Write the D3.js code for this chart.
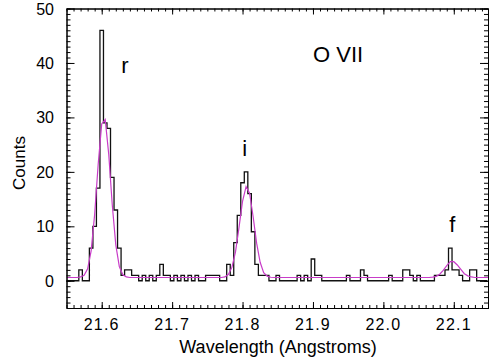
<!DOCTYPE html>
<html>
<head>
<meta charset="utf-8">
<script src="https://cdn.jsdelivr.net/npm/d3@7"></script>
<style>
  body { margin: 0; background: #fff; }
  text { font-family: "Liberation Sans", Arial, Helvetica, sans-serif; fill: #000; }
</style>
</head>
<body>
<svg id="chart" width="489" height="358"></svg>
<script>
// O VII triplet spectrum: counts per 0.005 Å bin, first bin centred at 21.550 Å
const binStart = 21.55;
const binWidth = 0.005;
const counts = [
  0, 0, 0, 0, 2, 0, 0, 6, 10, 17,
  46, 29, 28, 19, 13, 6, 1, 2, 2, 1,
  1, 0, 1, 0, 1, 0, 1, 3, 1, 1,
  0, 1, 0, 1, 0, 1, 0, 1, 0, 0,
  1, 1, 1, 1, 0, 0, 3, 1, 7, 12,
  18, 20, 16, 9, 3, 1, 1, 1, 0, 0,
  1, 0, 0, 0, 0, 0, 1, 0, 1, 0,
  4, 1, 1, 0, 0, 0, 0, 0, 0, 0,
  1, 0, 0, 0, 2, 1, 0, 0, 0, 0,
  0, 0, 1, 0, 0, 0, 2, 2, 1, 0,
  1, 0, 0, 0, 0, 1, 1, 1, 2, 6,
  2, 2, 1, 0, 0, 2, 2, 0, 0, 0
];
// fitted model (continuum + three lines), same bins
const model = [
  0.6, 0.6, 0.6, 0.6, 0.7, 1.0, 2.2, 5.5, 12.2, 21.4,
  28.8, 29.6, 23.2, 13.9, 6.6, 2.6, 1.1, 0.7, 0.6, 0.6,
  0.6, 0.6, 0.6, 0.6, 0.6, 0.6, 0.6, 0.6, 0.6, 0.6,
  0.6, 0.6, 0.6, 0.6, 0.6, 0.6, 0.6, 0.6, 0.6, 0.6,
  0.6, 0.6, 0.6, 0.6, 0.6, 0.7, 1.2, 2.5, 5.3, 9.8,
  14.6, 17.3, 16.1, 11.8, 6.9, 3.4, 1.5, 0.85, 0.65, 0.6,
  0.6, 0.6, 0.6, 0.6, 0.6, 0.6, 0.6, 0.6, 0.6, 0.6,
  0.6, 0.6, 0.6, 0.6, 0.6, 0.6, 0.6, 0.6, 0.6, 0.6,
  0.6, 0.6, 0.6, 0.6, 0.6, 0.6, 0.6, 0.6, 0.6, 0.6,
  0.6, 0.6, 0.6, 0.6, 0.6, 0.6, 0.6, 0.6, 0.6, 0.6,
  0.6, 0.6, 0.6, 0.6, 0.66, 0.81, 1.2, 1.9, 2.8, 3.5,
  3.5, 2.9, 2.1, 1.3, 0.9, 0.7, 0.6, 0.6, 0.6, 0.6
];
const xTicks = [21.6, 21.7, 21.8, 21.9, 22.0, 22.1];
const yTicks = [0, 10, 20, 30, 40, 50];
const lineNames = ["r", "i", "f"];
const ionName = "O VII";
const xTitle = "Wavelength (Angstroms)";
const yTitle = "Counts";

const svg = d3.select("#chart");
const m = { left: 66.5, right: 489, top: 8.5, bottom: 308 };
const x = d3.scaleLinear().domain([21.55, 22.15]).range([m.left, m.right]);
const y = d3.scaleLinear().domain([-5, 50]).range([m.bottom, m.top]);

svg.append("clipPath").attr("id", "plotClip")
  .append("rect").attr("x", m.left).attr("y", m.top)
  .attr("width", m.right - m.left).attr("height", m.bottom - m.top);

const waves = counts.map((_, i) => binStart + i * binWidth);

// histogram as a step line through the bin edges
const steps = counts.map((c, i) => [waves[i] - binWidth / 2, c]);
steps.push([waves[waves.length - 1] + binWidth / 2, counts[counts.length - 1]]);
const stepLine = d3.line().x(d => x(d[0])).y(d => y(d[1])).curve(d3.curveStepAfter);

const plot = svg.append("g").attr("clip-path", "url(#plotClip)");
plot.append("path").datum(steps).attr("d", stepLine)
  .attr("fill", "none").attr("stroke", "#111").attr("stroke-width", 1.3);

const modelPts = model.map((v, i) => [waves[i], v]);
modelPts.unshift([21.55, model[0]]);
modelPts.push([22.15, model[model.length - 1]]);
plot.append("path").datum(modelPts)
  .attr("d", d3.line().x(d => x(d[0])).y(d => y(d[1])))
  .attr("fill", "none").attr("stroke", "#c83cc8").attr("stroke-width", 1.2);

// axes with inward ticks on all four sides
const minorX = d3.range(21.55, 22.1501, 0.01);
const minorY = d3.range(-5, 50.01, 1);
function addAxis(axis, tr) {
  const g = svg.append("g").attr("transform", tr).call(axis);
  g.select(".domain").attr("stroke", "#000").attr("stroke-width", 1);
  g.selectAll(".tick line").attr("stroke", "#000");
  g.selectAll("text").remove();
  return g;
}
addAxis(d3.axisBottom(x).tickValues(minorX).tickSize(-3).tickSizeOuter(0), `translate(0,${m.bottom})`);
addAxis(d3.axisBottom(x).tickValues(xTicks).tickSize(-6).tickSizeOuter(0), `translate(0,${m.bottom})`);
addAxis(d3.axisTop(x).tickValues(minorX).tickSize(-3).tickSizeOuter(0), `translate(0,${m.top})`);
addAxis(d3.axisTop(x).tickValues(xTicks).tickSize(-6).tickSizeOuter(0), `translate(0,${m.top})`);
addAxis(d3.axisLeft(y).tickValues(minorY).tickSize(-4).tickSizeOuter(0), `translate(${m.left},0)`);
addAxis(d3.axisLeft(y).tickValues(yTicks).tickSize(-8).tickSizeOuter(0), `translate(${m.left},0)`);
addAxis(d3.axisRight(y).tickValues(minorY).tickSize(-4).tickSizeOuter(0), `translate(${m.right - 1},0)`);
addAxis(d3.axisRight(y).tickValues(yTicks).tickSize(-8).tickSizeOuter(0), `translate(${m.right - 1},0)`);

// tick labels
svg.selectAll("text.xl").data(xTicks).enter().append("text")
  .attr("x", d => x(d)).attr("y", 330).attr("text-anchor", "middle")
  .attr("font-size", 16).attr("letter-spacing", 1.2)
  .text(d => d.toFixed(1));
svg.selectAll("text.yl").data(yTicks).enter().append("text")
  .attr("x", 54).attr("y", d => y(d) + 6).attr("text-anchor", "end")
  .attr("font-size", 16)
  .text(d => d);

svg.append("text").attr("x", 278).attr("y", 353).attr("text-anchor", "middle")
  .attr("font-size", 18).text(xTitle);
svg.append("text").attr("transform", "translate(25,163) rotate(-90)")
  .attr("text-anchor", "middle").attr("font-size", 17).text(yTitle);

// line identifications
const labelAt = [[21.633, 38.2], [21.803, 23], [22.098, 9]];
lineNames.forEach((t, i) => {
  svg.append("text").attr("x", x(labelAt[i][0])).attr("y", y(labelAt[i][1]))
    .attr("text-anchor", "middle").attr("font-size", 22).text(t);
});
svg.append("text").attr("x", 313).attr("y", 62).attr("font-size", 22).text(ionName);
</script>
</body>
</html>
